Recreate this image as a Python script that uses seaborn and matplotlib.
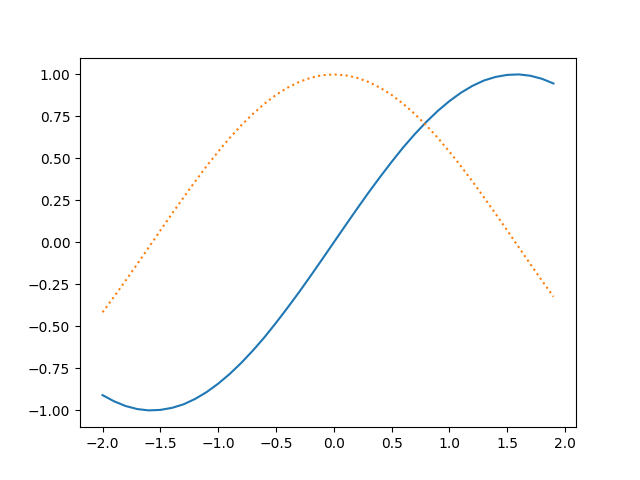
import matplotlib
matplotlib.use("Agg")
import matplotlib.pyplot as plt
import seaborn as sns

# values, x from -2.0 to 1.9 in steps of 0.1
x_vals = [-2.0, -1.9, -1.8, -1.7, -1.6, -1.5, -1.4, -1.3, -1.2, -1.1,
          -1.0, -0.9, -0.8, -0.7, -0.6, -0.5, -0.4, -0.3, -0.2, -0.1,
          0.0, 0.1, 0.2, 0.3, 0.4, 0.5, 0.6, 0.7, 0.8, 0.9,
          1.0, 1.1, 1.2, 1.3, 1.4, 1.5, 1.6, 1.7, 1.8, 1.9]

solid_vals = [-0.909, -0.946, -0.974, -0.992, -1.000, -0.997, -0.985, -0.964, -0.932, -0.891,
              -0.841, -0.783, -0.717, -0.644, -0.565, -0.479, -0.389, -0.296, -0.199, -0.100,
              0.000, 0.100, 0.199, 0.296, 0.389, 0.479, 0.565, 0.644, 0.717, 0.783,
              0.841, 0.891, 0.932, 0.964, 0.985, 0.997, 1.000, 0.992, 0.974, 0.946]

dotted_vals = [-0.416, -0.323, -0.227, -0.129, -0.029, 0.071, 0.170, 0.267, 0.362, 0.454,
               0.540, 0.622, 0.697, 0.765, 0.825, 0.878, 0.921, 0.955, 0.980, 0.995,
               1.000, 0.995, 0.980, 0.955, 0.921, 0.878, 0.825, 0.765, 0.697, 0.622,
               0.540, 0.454, 0.362, 0.267, 0.170, 0.071, -0.029, -0.129, -0.227, -0.323]

fig, ax = plt.subplots(figsize=(6.4, 4.8), dpi=100)
sns.lineplot(x=x_vals, y=solid_vals, ax=ax, color="#1f77b4", linewidth=1.5)
sns.lineplot(x=x_vals, y=dotted_vals, ax=ax, color="#ff7f0e", linestyle=":", linewidth=1.5)

plt.savefig("out.png")
